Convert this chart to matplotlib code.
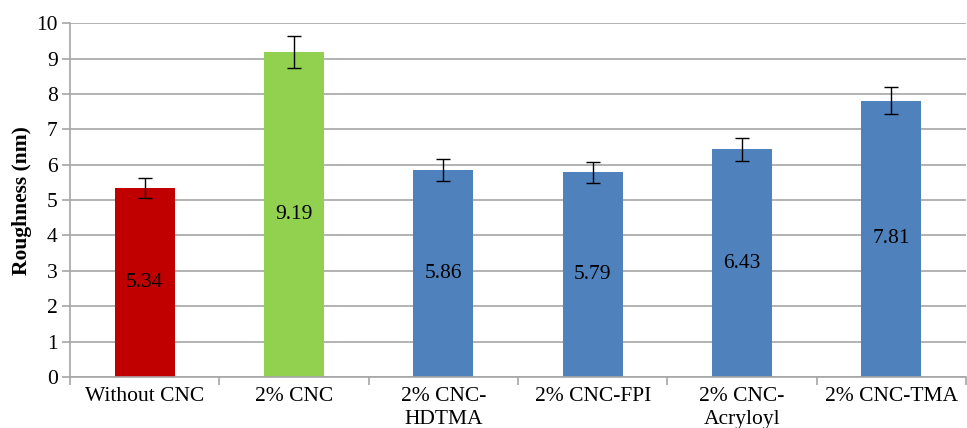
import matplotlib
matplotlib.use("Agg")
import matplotlib.pyplot as plt
import numpy as np

categories = ["Without CNC", "2% CNC", "2% CNC-\nHDTMA", "2% CNC-FPI", "2% CNC-\nAcryloyl", "2% CNC-TMA"]
values = [5.34, 9.19, 5.86, 5.79, 6.43, 7.81]
errors = [0.27, 0.45, 0.31, 0.30, 0.32, 0.39]
colors = ["#C00000", "#92D050", "#4F81BD", "#4F81BD", "#4F81BD", "#4F81BD"]

plt.rcParams['font.family'] = ['Liberation Serif', 'DejaVu Serif']

fig = plt.figure(figsize=(9.67, 4.28), dpi=100)
ax = fig.add_axes([0.0724, 0.119, 0.9266, 0.827])

x = np.arange(len(categories))
ax.bar(x, values, width=0.4, color=colors, zorder=2)
ax.errorbar(x, values, yerr=errors, fmt='none', ecolor='black', elinewidth=1, capsize=5, capthick=1, zorder=3)
for xi, v in zip(x, values):
    ax.text(xi, v / 2, f"{v:.2f}", ha='center', va='center', fontsize=15.5, zorder=4)

ax.set_xlim(-0.5, len(categories) - 0.5)
ax.set_ylim(0, 10)
ax.set_yticks(np.arange(0, 11, 1))
ax.yaxis.grid(True, color='#a6a6a6', linewidth=1.2, zorder=0)
ax.set_axisbelow(True)

ax.set_xticks(x)
ax.set_xticklabels(categories, fontsize=15.5, linespacing=1.3)
ax.set_xticks(np.arange(-0.5, len(categories), 1), minor=True)
ax.tick_params(axis='x', which='major', length=0, pad=7)
ax.tick_params(axis='x', which='minor', length=6, color='#a6a6a6', width=1.2)
ax.tick_params(axis='y', labelsize=15.5, length=6, color='#a6a6a6', width=1.2, pad=3)

for s in ['top', 'right']:
    ax.spines[s].set_visible(False)
for s in ['left', 'bottom']:
    ax.spines[s].set_color('#a6a6a6')
    ax.spines[s].set_linewidth(1.2)

ax.set_ylabel("Roughness (nm)", fontsize=15.5, fontweight='bold', labelpad=3)

fig.savefig("out.png", dpi=100)
